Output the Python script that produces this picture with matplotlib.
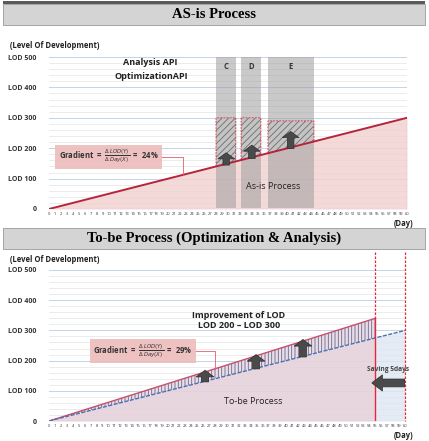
import matplotlib
matplotlib.use('Agg')
import matplotlib.pyplot as plt
from matplotlib.patches import Rectangle, FancyArrow, Polygon
import numpy as np

# ---- data ----
days = list(range(0, 61))
asis_end_day, asis_end_lod = 60, 300
tobe_end_day, tobe_end_lod = 55, 340

# gray API bands (start day, end day, label, hatched top LOD)
band_start = [28.0, 32.2, 36.7]
band_end = [31.3, 35.5, 44.4]
band_label = ['C', 'D', 'E']
band_top = [300, 300, 290]

# up arrows in the as-is panel (day, tip LOD)
asis_arrow_day = [29.7, 34.0, 40.5]
asis_arrow_tip = [185, 210, 255]

# up arrows in the to-be panel
tobe_arrow_day = [26.3, 34.9, 42.8]
tobe_arrow_tip = [168, 220, 270]

ytick_vals = [0, 100, 200, 300, 400, 500]
ytick_labels = ['0', 'LOD 100', 'LOD 200', 'LOD 300', 'LOD 400', 'LOD 500']

RED = '#b5243a'
BLUE = '#4f6fb0'
PINK = '#f2d0d0'
GRAYBAND = '#9e9e9e'
FONT = ['Open Sans', 'DejaVu Sans']
plt.rcParams['font.family'] = FONT
plt.rcParams['hatch.linewidth'] = 0.6

W, H = 429, 441
fig = plt.figure(figsize=(W / 100, H / 100), dpi=100)


def fx(px):
    return px / W


def fy(py):
    return 1 - py / H


def title_band(y0, y1, text, top_line=False):
    fig.patches.append(Rectangle((fx(3), fy(y1)), fx(422), fy(y0) - fy(y1),
                                 transform=fig.transFigure, facecolor='#d4d4d4',
                                 edgecolor='#9a9a9a', lw=0.6))
    if top_line:
        fig.patches.append(Rectangle((fx(3), fy(y0)), fx(422), fy(1) - fy(y0) + 0.001,
                                     transform=fig.transFigure, facecolor='#5a5a5a',
                                     edgecolor='none'))
    fig.text(0.5, (fy(y0) + fy(y1)) / 2, text, ha='center', va='center',
             family='Liberation Serif', weight='bold', fontsize=10.5)


def setup_axes(ax):
    ax.set_xlim(0, 60)
    ax.set_ylim(0, 500)
    for s in ax.spines.values():
        s.set_visible(False)
    ax.set_yticks(np.arange(0, 501, 20), minor=True)
    ax.set_yticks(ytick_vals)
    ax.set_yticklabels(ytick_labels, fontsize=5, weight='bold', color='#333333')
    ax.set_xticks(days)
    ax.set_xticklabels([str(d) for d in days], fontsize=2.9, color='#333333')
    ax.tick_params(axis='both', which='both', length=0)
    ax.tick_params(axis='y', pad=9)
    ax.tick_params(axis='x', pad=2.5)
    ax.grid(True, axis='y', which='minor', color='#e4e4e4', lw=0.5)
    ax.grid(True, axis='y', which='major', color='#c5d3e8', lw=0.7)
    ax.set_axisbelow(True)
    ax.axhline(0, color='#8fa3c8', lw=0.8, zorder=2)


def up_arrow(ax, x, base, tip, width=1.1, head=2.8, head_len=20):
    ax.add_patch(FancyArrow(x, base, 0, tip - base, width=width, head_width=head,
                            head_length=head_len, length_includes_head=True,
                            facecolor='#4a4a4a', edgecolor='#2e2e2e', lw=0.5, zorder=6))


# ================= AS-is panel =================
title_band(4, 25, 'AS-is Process', top_line=True)
ax1 = fig.add_axes([fx(49), fy(209), fx(407) - fx(49), fy(57) - fy(209)])
setup_axes(ax1)

asis = np.array(days) * asis_end_lod / asis_end_day
ax1.fill_between(days, 0, asis, color=PINK, alpha=0.8, zorder=1, lw=0)
ax1.plot([60, 60], [0, 300], color='#8fa3c8', lw=0.8, zorder=2)

for s, e, lab, top in zip(band_start, band_end, band_label, band_top):
    ax1.add_patch(Rectangle((s, 4), e - s, 496, facecolor=GRAYBAND, alpha=0.55,
                            edgecolor='none', zorder=3))
    ax1.text((s + e) / 2, 468, lab, ha='center', va='center', fontsize=5.5,
             weight='bold', color='#333333', zorder=7)
    ls, le = s * 5, e * 5
    corners = [(s, ls), (s, top), (e, top), (e, le)]
    ax1.add_patch(Polygon(corners, closed=True, facecolor='#c4c4c4',
                          edgecolor='#6e6e6e', hatch='/////', lw=0, zorder=4))
    ax1.add_patch(Polygon(corners, closed=True, fill=False, edgecolor='#d9455a',
                          ls=(0, (2, 1.2)), lw=0.7, zorder=5))

ax1.plot(days, asis, color=RED, lw=1.4, zorder=6)

for d, tip in zip(asis_arrow_day, asis_arrow_tip):
    up_arrow(ax1, d, d * 5 - 4, tip)

ax1.text(17, 482, 'Analysis API', ha='center', va='center', fontsize=6.5,
         weight='bold', color='#222222', zorder=7)
ax1.text(17.2, 436, 'OptimizationAPI', ha='center', va='center', fontsize=6.5,
         weight='bold', color='#222222', zorder=7)
ax1.text(37.5, 73, 'As-is Process', ha='center', va='center', fontsize=6.5,
         color='#222222', zorder=7)

grad_txt = r'Gradient  =  $\frac{\Delta\,LOD(Y)}{\Delta\,Day(X)}$  =  '
ax1.text(10, 172, grad_txt + '24%', ha='center', va='center', fontsize=5.5,
         weight='bold', color='#333333', zorder=8,
         bbox=dict(boxstyle='square,pad=0.45', facecolor='#eebcbc',
                   edgecolor='none', alpha=0.9))
ax1.plot([18.8, 22.4, 22.4], [172, 172, 112], color='#e06070', lw=0.6, zorder=7)

fig.text(fx(10), fy(45), '(Level Of Development)', fontsize=5.5, weight='bold',
         va='center', color='#222222')
fig.text(fx(413), fy(223), '(Day)', fontsize=5.5, weight='bold', ha='right',
         va='center', color='#222222')

# ================= To-be panel =================
title_band(228, 249, 'To-be Process (Optimization & Analysis)')
ax2 = fig.add_axes([fx(49), fy(421), fx(405) - fx(49), fy(270) - fy(421)])
setup_axes(ax2)

tobe_days = [d for d in days if d <= tobe_end_day]
tobe = np.array(tobe_days) * tobe_end_lod / tobe_end_day
base = np.array(days) * asis_end_lod / asis_end_day
base55 = base[:tobe_end_day + 1]

ax2.fill_between(days, 0, base, color='#dfe6f2', alpha=0.8, zorder=1, lw=0)
ax2.fill_between(tobe_days, 0, base55, color='#ebc6cf', alpha=0.55, zorder=1, lw=0)
ax2.fill_between(tobe_days, base55, tobe, facecolor='#e9dde8', edgecolor='#6a6a8a',
                 hatch='|||||', lw=0, zorder=3)
ax2.plot(tobe_days, tobe, color='#c8506a', lw=1.0, zorder=5)
ax2.plot(days, base, color=BLUE, lw=1.0, ls=(0, (3, 1)), zorder=5)

ax2.plot([55, 55], [560, tobe_end_lod], color='#e8283a', lw=0.9, ls=(0, (2, 1.2)),
         clip_on=False, zorder=6)
ax2.plot([55, 55], [tobe_end_lod, 0], color='#e8283a', lw=1.0, zorder=6)
ax2.plot([60, 60], [560, 0], color='#e8283a', lw=0.9, ls=(0, (2, 1.2)),
         clip_on=False, zorder=6)

for d, tip in zip(tobe_arrow_day, tobe_arrow_tip):
    up_arrow(ax2, d, d * 5 - 2, tip, width=1.2, head=3.0, head_len=22)

ax2.add_patch(FancyArrow(60, 126, -5.6, 0, width=26, head_width=54, head_length=1.8,
                         length_includes_head=True, facecolor='#4a4a4a',
                         edgecolor='#2e2e2e', lw=0.5, zorder=7))
ax2.text(57.2, 172, 'Saving 5days', ha='center', va='center', fontsize=4.8,
         weight='bold', color='#444444', zorder=8)

ax2.text(32, 350, 'Improvement of LOD', ha='center', va='center', fontsize=6.5,
         weight='bold', color='#222222', zorder=8)
ax2.text(32, 316, 'LOD 200 \u2013 LOD 300', ha='center', va='center', fontsize=6.5,
         weight='bold', color='#222222', zorder=8)
ax2.text(34.5, 66, 'To-be Process', ha='center', va='center', fontsize=6.5,
         color='#222222', zorder=8)

ax2.text(15.8, 232, grad_txt + '29%', ha='center', va='center', fontsize=5.5,
         weight='bold', color='#333333', zorder=8,
         bbox=dict(boxstyle='square,pad=0.45', facecolor='#eebcbc',
                   edgecolor='none', alpha=0.9))
ax2.plot([24.4, 28, 28], [232, 232, 173], color='#e06070', lw=0.6, zorder=7)

fig.text(fx(10), fy(260), '(Level Of Development)', fontsize=5.5, weight='bold',
         va='center', color='#222222')
fig.text(fx(413), fy(436), '(Day)', fontsize=5.5, weight='bold', ha='right',
         va='center', color='#222222')

fig.savefig('out.png', dpi=100)
